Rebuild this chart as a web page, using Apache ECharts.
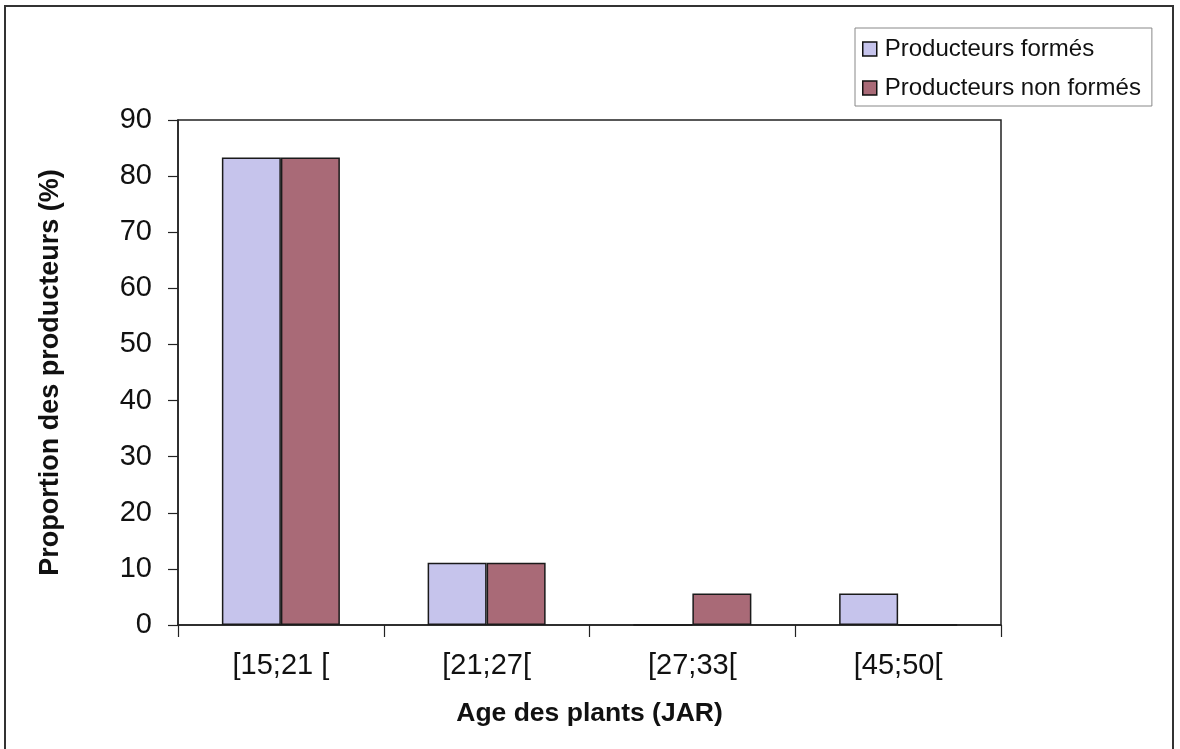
<!DOCTYPE html>
<html>
<head>
<meta charset="utf-8">
<script src="https://cdn.jsdelivr.net/npm/echarts@6/dist/echarts.min.js"></script>
<style>
html,body{margin:0;padding:0;background:#fff;}
#chart{width:1180px;height:749px;}
</style>
</head>
<body>
<div id="chart"></div>
<script>
var categories = ['[15;21 [', '[21;27[', '[27;33[', '[45;50['];
var seriesNames = ['Producteurs formés', 'Producteurs non formés'];
var formes = [83.3, 11.1, 0, 5.6];
var nonFormes = [83.3, 11.1, 5.6, 0];
var yTicks = { min: 0, max: 90, interval: 10 };
var xAxisTitle = 'Age des plants (JAR)';
var yAxisTitle = 'Proportion des producteurs (%)';

var FONT = "'Liberation Sans', Arial, sans-serif";
var chart = echarts.init(document.getElementById('chart'), null, { renderer: 'canvas' });
chart.setOption({
  backgroundColor: '#fff',
  animation: false,
  graphic: [{
    type: 'rect',
    shape: { x: 5, y: 6, width: 1168, height: 760 },
    style: { fill: 'none', stroke: '#333', lineWidth: 2 },
    silent: true
  }],
  grid: {
    left: 178, top: 120, right: 179, bottom: 124,
    show: true, borderColor: '#222', borderWidth: 1.5, backgroundColor: '#fff'
  },
  legend: {
    orient: 'vertical',
    left: 855, top: 28,
    padding: [9, 11, 6, 7],
    itemGap: 15,
    itemWidth: 14, itemHeight: 14,
    borderColor: '#888', borderWidth: 1,
    icon: 'rect',
    itemStyle: { borderColor: '#111', borderWidth: 1.5 },
    textStyle: { fontFamily: FONT, fontSize: 24, color: '#111', padding: [0, 0, 0, 3] },
    data: seriesNames
  },
  xAxis: {
    type: 'category',
    data: categories,
    axisLine: { show: true, lineStyle: { color: '#222', width: 1.5 } },
    axisTick: { show: true, length: 12, lineStyle: { color: '#222', width: 1.2 } },
    axisLabel: { fontFamily: FONT, fontSize: 29, color: '#111', margin: 26 },
    name: xAxisTitle,
    nameLocation: 'middle',
    nameGap: 75,
    nameTextStyle: { fontFamily: FONT, fontSize: 26.5, fontWeight: 'bold', color: '#111' }
  },
  yAxis: {
    type: 'value',
    min: yTicks.min, max: yTicks.max, interval: yTicks.interval,
    axisLine: { show: true, lineStyle: { color: '#222', width: 1.5 } },
    axisTick: { show: true, length: 10, lineStyle: { color: '#222', width: 1.2 } },
    splitLine: { show: false },
    axisLabel: { fontFamily: FONT, fontSize: 29, color: '#111', margin: 26 },
    name: yAxisTitle,
    nameLocation: 'middle',
    nameGap: 114,
    nameTextStyle: { fontFamily: FONT, fontSize: 27, fontWeight: 'bold', color: '#111' }
  },
  series: [{
    name: seriesNames[0],
    type: 'bar',
    data: formes,
    barWidth: 59,
    barGap: '0%',
    itemStyle: { color: '#c6c4ec', borderColor: '#1a1a1a', borderWidth: 1.5 }
  }, {
    name: seriesNames[1],
    type: 'bar',
    data: nonFormes,
    barWidth: 59,
    barGap: '0%',
    itemStyle: { color: '#a96a77', borderColor: '#1a1a1a', borderWidth: 1.5 }
  }]
});
</script>
</body>
</html>
